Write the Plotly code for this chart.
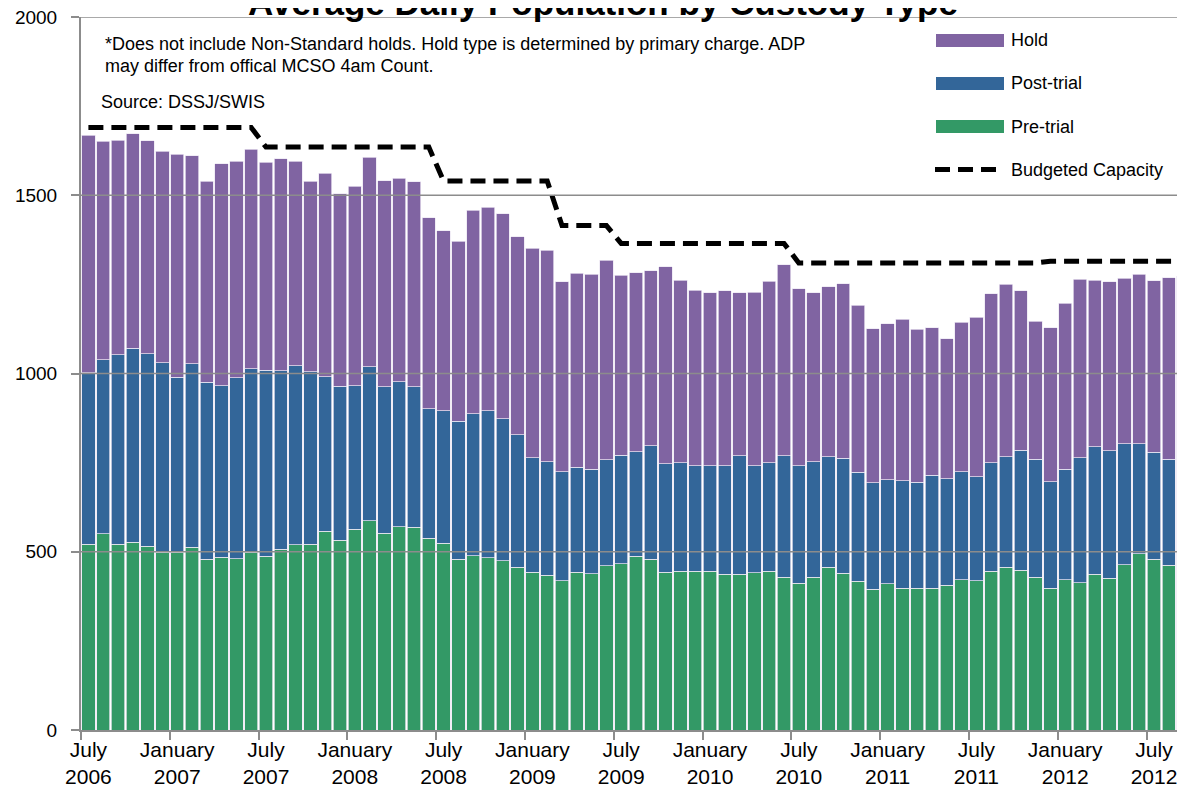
import plotly.graph_objects as go

# ---------------- data (monthly, July 2006 - September 2012) ----------------
tick_labels = ["July<br>2006", "January<br>2007", "July<br>2007", "January<br>2008",
               "July<br>2008", "January<br>2009", "July<br>2009", "January<br>2010",
               "July<br>2010", "January<br>2011", "July<br>2011", "January<br>2012",
               "July<br>2012"]

pre_trial = [521, 550, 521, 526, 516, 499, 499, 513, 479, 484, 481, 499,
             487, 507, 519, 521, 558, 532, 563, 587, 552, 570, 569, 538,
             524, 479, 489, 483, 475, 456, 442, 434, 419, 442, 439, 461,
             467, 487, 479, 443, 446, 446, 446, 437, 437, 441, 446, 428,
             412, 429, 456, 440, 417, 395, 410, 397, 397, 397, 406, 421,
             418, 446, 456, 448, 429, 398, 421, 413, 437, 426, 463, 494,
             479, 462, 474]

post_trial = [481, 488, 532, 545, 539, 531, 490, 514, 496, 482, 507, 514,
              522, 501, 503, 484, 433, 432, 403, 432, 411, 407, 394, 363,
              371, 387, 398, 413, 398, 372, 322, 318, 305, 295, 293, 297,
              304, 293, 318, 304, 303, 295, 295, 304, 332, 300, 304, 341,
              329, 323, 311, 322, 306, 299, 292, 302, 298, 317, 299, 304,
              293, 304, 311, 337, 330, 298, 310, 351, 358, 357, 340, 309,
              300, 298, 292]

hold = [667, 613, 601, 602, 598, 593, 626, 584, 564, 623, 607, 616,
        583, 595, 573, 534, 571, 540, 559, 588, 578, 570, 575, 536,
        506, 505, 571, 571, 575, 555, 588, 594, 534, 544, 546, 560,
        505, 503, 491, 552, 512, 493, 486, 491, 458, 487, 509, 536,
        497, 475, 476, 490, 468, 431, 438, 453, 429, 415, 392, 419,
        447, 474, 483, 447, 387, 432, 466, 501, 467, 474, 464, 475,
        481, 509, 507]

budgeted_capacity = [1690, 1690, 1690, 1690, 1690, 1690, 1690, 1690, 1690, 1690, 1690, 1690,
                     1635, 1635, 1635, 1635, 1635, 1635, 1635, 1635, 1635, 1635, 1635, 1635,
                     1540, 1540, 1540, 1540, 1540, 1540, 1540, 1540,
                     1415, 1415, 1415, 1415,
                     1365, 1365, 1365, 1365, 1365, 1365, 1365, 1365, 1365, 1365, 1365, 1365,
                     1310, 1310, 1310, 1310, 1310, 1310, 1310, 1310, 1310, 1310, 1310, 1310,
                     1310, 1310, 1310, 1310, 1310,
                     1315, 1315, 1315, 1315, 1315, 1315, 1315, 1315, 1315, 1315]

y_ticks = [0, 500, 1000, 1500, 2000]

# ---------------- styling ----------------
OFF = 8                      # page body margin of the html page
W, H = 1185 - OFF, 801 - OFF
ML, MR, MT, MB = 73, 0, 9, 71
PW, PH = W - ML - MR, H - MT - MB

FONT = "Liberation Sans, Arial, sans-serif"
C_HOLD, C_POST, C_PRE = "#8064A2", "#336699", "#339966"
GRID = "#8C8C8C"


def px_x(p):
    """page pixel -> paper x"""
    return (p - OFF - ML) / PW


def px_y(p):
    """page pixel -> paper y"""
    return (H - MB - (p - OFF)) / PH


x = list(range(len(pre_trial)))
tick_pos = x[::6][:len(tick_labels)]

fig = go.Figure()
bar_line = dict(color="rgba(235,230,242,0.9)", width=0.8)
fig.add_trace(go.Bar(x=x, y=pre_trial, name="Pre-trial", marker=dict(color=C_PRE, line=bar_line),
                     showlegend=False))
fig.add_trace(go.Bar(x=x, y=post_trial, name="Post-trial", marker=dict(color=C_POST, line=bar_line),
                     showlegend=False))
fig.add_trace(go.Bar(x=x, y=hold, name="Hold", marker=dict(color=C_HOLD, line=bar_line),
                     showlegend=False))
fig.add_trace(go.Scatter(x=x, y=budgeted_capacity, name="Budgeted Capacity", mode="lines",
                         line=dict(color="black", width=5, dash="15px,8px"), showlegend=False,
                         cliponaxis=False))

shapes = []
for v in y_ticks[1:]:
    shapes.append(dict(type="line", xref="paper", yref="y", x0=0, x1=1, y0=v, y1=v,
                       line=dict(color=GRID, width=1.5), layer="above"))

# manual legend
LEG_SIZE = 18
legend_items = [("Hold", C_HOLD, 40.5), ("Post-trial", C_POST, 83.5), ("Pre-trial", C_PRE, 126.5)]
annotations = []
for name, col, yc in legend_items:
    shapes.append(dict(type="rect", xref="paper", yref="paper",
                       x0=px_x(936), x1=px_x(1004), y0=px_y(yc + 6.5), y1=px_y(yc - 6.5),
                       line=dict(width=0), fillcolor=col, layer="above"))
    annotations.append(dict(xref="paper", yref="paper", x=px_x(1009), y=px_y(yc), text=name,
                            showarrow=False, xanchor="left", yanchor="middle",
                            font=dict(family=FONT, size=LEG_SIZE, color="black")))
shapes.append(dict(type="line", xref="paper", yref="paper", x0=px_x(935), x1=px_x(998),
                   y0=px_y(169.5), y1=px_y(169.5),
                   line=dict(color="black", width=5, dash="15px,8px"), layer="above"))
annotations.append(dict(xref="paper", yref="paper", x=px_x(1009), y=px_y(169.5),
                        text="Budgeted Capacity", showarrow=False, xanchor="left", yanchor="middle",
                        font=dict(family=FONT, size=LEG_SIZE, color="black")))

# notes
note_lines = [("*Does not include Non-Standard holds. Hold type is determined by primary charge. ADP", 44),
              ("may differ from offical MCSO 4am Count.", 66)]
for txt, yc in note_lines:
    annotations.append(dict(xref="paper", yref="paper", x=px_x(103), y=px_y(yc), text=txt,
                            showarrow=False, xanchor="left", yanchor="middle", align="left",
                            font=dict(family=FONT, size=18, color="black")))
annotations.append(dict(xref="paper", yref="paper", x=px_x(99), y=px_y(102),
                        text="Source: DSSJ/SWIS", showarrow=False, xanchor="left", yanchor="middle",
                        font=dict(family=FONT, size=18, color="black")))
# title (mostly cropped at the top of the picture)
annotations.append(dict(xref="paper", yref="paper", x=px_x(603), y=px_y(24),
                        text="<b>Average Daily Population by Custody Type</b>", showarrow=False,
                        xanchor="center", yanchor="bottom",
                        font=dict(family=FONT, size=35, color="black")))

fig.update_layout(
    width=W, height=H,
    margin=dict(l=ML, r=MR, t=MT, b=MB, pad=0),
    barmode="stack", bargap=0.1,
    plot_bgcolor="white", paper_bgcolor="white",
    font=dict(family=FONT, color="black"),
    shapes=shapes, annotations=annotations,
    showlegend=False,
    xaxis=dict(range=[-0.5, -0.5 + PW / 14.8], tickmode="array", tickvals=tick_pos,
               ticktext=tick_labels, ticks="", showgrid=False, zeroline=False,
               showline=True, linecolor=GRID, linewidth=1.5,
               tickfont=dict(family=FONT, size=21, color="black"),
               minor=dict(tick0=-0.5, dtick=6, ticks="outside", ticklen=8, tickcolor=GRID,
                          tickwidth=1.5, showgrid=False),
               automargin=False, fixedrange=True),
    yaxis=dict(range=[0, 2000], tickvals=y_ticks, ticks="outside", ticklen=8,
               tickcolor=GRID, tickwidth=1.5, showgrid=False, zeroline=False,
               showline=True, linecolor=GRID, linewidth=2,
               tickfont=dict(family=FONT, size=19, color="black"),
               ticklabelstandoff=10, ticklabeloverflow="allow",
               automargin=False, fixedrange=True),
)

fig.write_html("out.html")
